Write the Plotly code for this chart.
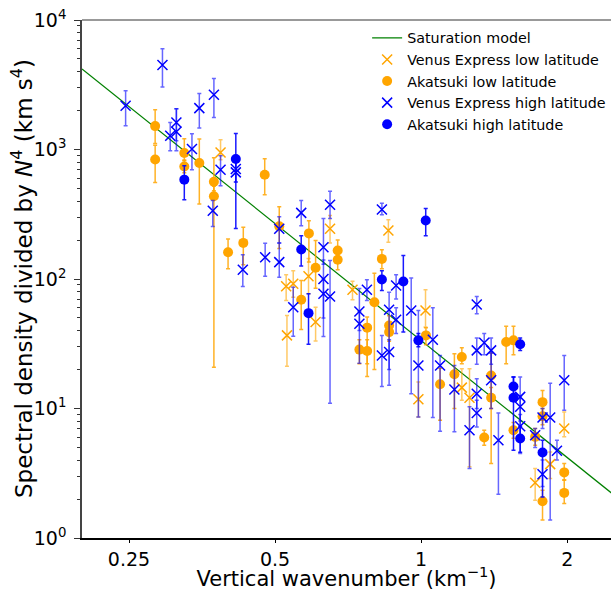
import numpy as np
import plotly.graph_objects as go

# Saturation model line (end points)
model_k = [0.2, 2.5]
model_psd = [4190, 2.14]

# Venus Express, low latitude (orange crosses)
ve_low_k = [0.386, 0.527, 0.545, 0.586, 0.649, 0.529, 0.606, 0.722, 0.856, 1.021,
            0.987, 1.213, 1.258, 1.718, 1.845, 1.972]
ve_low_psd = [949, 88, 92, 105, 244, 36.7, 46.5, 82.6, 237, 57.2,
              11.8, 14.5, 12.1, 2.67, 3.72, 7.01]
ve_low_hi = [1189, 108, 116, 144, 309, 52.3, 60.6, 96.2, 287, 82.6,
             16.0, 20.3, 20.3, 3.44, 4.62, 9.41]
ve_low_lo = [834, 68.3, 72.4, 76.9, 190, 21.2, 33.2, 69.2, 192, 42.5,
             8.6, 11.6, 3.55, 1.96, 2.88, 6.04]

# Akatsuki, low latitude (orange circles)
ak_low_k = [0.283, 0.283, 0.325, 0.325, 0.349, 0.374, 0.374, 0.400, 0.430, 0.476,
            0.510, 0.587, 0.606, 0.566, 0.673, 0.673, 0.830, 0.801, 0.774, 0.746,
            0.774, 0.859, 0.859, 1.023, 1.094, 1.171, 1.213, 1.349, 1.394, 1.394,
            1.497, 1.550, 1.550, 1.779, 1.779, 1.779, 1.972, 1.972, 1.718]
ak_low_psd = [1516, 838, 939, 740, 786, 564, 435, 161, 190, 639,
              255, 225, 122, 69.2, 166, 141, 143, 66.2, 42.1, 28.5,
              27.8, 43.8, 38.9, 36.7, 15.4, 18.4, 25.0, 5.97, 18.0, 12.1,
              32.6, 33.6, 6.80, 11.2, 8.71, 1.92, 3.21, 2.23, 6.04]
ak_low_hi = [2025, 1080, 1210, 830, 1204, 864, 520, 204, 251, 849,
             362, 282, 198, 97.4, 200, 166, 168, 111, 50.8, 34.0,
             34.0, 52, 46, 42, 20.5, 26.5, 29.5, 6.8, 26.8, 14.5,
             43.1, 43.1, 7.8, 13.8, 10.0, 2.34, 3.76, 2.80, 7.0]
ak_low_lo = [1114, 557, 819, 662, 380, 481, 20.8, 120, 129, 448,
             172, 135, 85, 40.8, 145, 118, 120, 20.0, 17.7, 22.2,
             22.2, 37, 33, 31, 8.1, 10.0, 22.2, 5.2, 3.76, 10.0,
             22.2, 26.0, 5.9, 8.87, 7.5, 1.38, 2.80, 1.85, 5.2]

# Venus Express, high latitude (blue crosses)
ve_high_k = [0.246, 0.293, 0.304, 0.313, 0.313, 0.337, 0.349, 0.374, 0.386, 0.372,
             0.415, 0.415, 0.429, 0.477, 0.510, 0.510, 0.566, 0.649, 0.629, 0.629,
             0.629, 0.649, 0.545, 0.746, 0.746, 0.773, 0.830, 0.888, 0.859, 0.888,
             0.830, 0.859, 0.954, 0.987, 1.057, 1.094, 1.302, 1.302, 1.349, 1.394,
             1.171, 1.258, 1.302, 1.302, 1.394, 1.443, 1.600, 1.600, 1.600, 1.718,
             1.779, 1.845, 1.779, 1.905, 1.972]
ve_high_psd = [2174, 4499, 1276, 1370, 1616, 1008, 2086, 2643, 698, 337,
               666, 707, 118, 147, 244, 135, 324, 375, 176, 100,
               76.9, 73.3, 60.6, 56.2, 45.1, 82.6, 344, 89.1, 57.9, 48.5,
               25.7, 27.3, 57.2, 21.5, 34.0, 21.5, 63.6, 28.1, 32.2, 28.1,
               14.0, 6.80, 13.0, 9.24, 16.5, 5.69, 12.3, 10.3, 7.30, 6.22,
               8.52, 8.52, 3.11, 4.71, 16.5]
ve_high_hi = [2837, 6009, 1616, 2061, 2061, 1322, 2704, 3528, 895, 403,
              850, 900, 154, 189, 303, 190, 403, 475, 293, 140,
              100, 139, 86.5, 84.5, 56, 98.6, 384, 108, 79.1, 60,
              36.7, 34, 102, 57.2, 60.0, 25.7, 73.3, 35, 38, 35,
              21.5, 10.3, 17, 11.6, 26.8, 9.24, 17.5, 12.5, 9.0, 7.0,
              10.0, 15.7, 4.0, 5.69, 25.7]
ve_high_lo = [1524, 3045, 978, 978, 1168, 698, 1463, 1766, 525, 254,
              560, 560, 87.5, 105, 190, 103, 258, 293, 130, 36,
              50, 11.0, 36.1, 40, 22.4, 68.3, 314, 70, 15.1, 38,
              14.8, 20, 13.0, 8.61, 8.52, 6.68, 53.9, 22, 26, 22,
              6.60, 3.44, 10, 7.21, 10, 2.18, 8, 6, 4.5, 5.0,
              7.0, 1.38, 2.5, 4.0, 9.70]

# Akatsuki, high latitude (blue circles)
ak_high_k = [0.325, 0.415, 0.566, 0.586, 0.830, 0.919, 1.022, 0.987, 1.600, 1.550,
             1.550, 1.600, 1.779]
ak_high_psd = [585, 844, 169, 54.5, 99.1, 95.7, 283, 33.6, 31.3, 14.8,
               12.1, 5.87, 4.58]
ak_high_hi = [749, 1329, 216, 76.9, 116, 152, 351, 38, 35, 17.5,
              17.5, 7.3, 5.69]
ak_high_lo = [410, 245, 126, 31.3, 81.5, 38.9, 216, 30, 28, 12,
              4.77, 4.6, 2.07]

y_ticks = [1, 10, 100, 1000, 10000]
y_tick_text = ["10<sup>0</sup>", "10<sup>1</sup>", "10<sup>2</sup>", "10<sup>3</sup>", "10<sup>4</sup>"]
x_ticks = [0.25, 0.5, 1, 2]
x_tick_text = ["0.25", "0.5", "1", "2"]

FONT = "DejaVu Sans"


def err_bars(psd, hi, lo, color):
    psd = np.array(psd)
    return dict(type="data", symmetric=False,
                array=np.array(hi) - psd, arrayminus=psd - np.array(lo),
                color=color, thickness=1.5, width=2)


fig = go.Figure()

fig.add_trace(go.Scatter(x=model_k, y=model_psd, mode="lines", name="Saturation model",
                         line=dict(color="green", width=1.2)))

fig.add_trace(go.Scatter(x=ve_low_k, y=ve_low_psd, mode="markers", name="Venus Express low latitude",
                         marker=dict(symbol="x-thin", size=10, color="orange",
                                     line=dict(width=1.5, color="orange")),
                         error_y=err_bars(ve_low_psd, ve_low_hi, ve_low_lo, "rgba(255,165,0,0.6)")))

fig.add_trace(go.Scatter(x=ak_low_k, y=ak_low_psd, mode="markers", name="Akatsuki low latitude",
                         marker=dict(symbol="circle", size=10, color="orange"),
                         error_y=err_bars(ak_low_psd, ak_low_hi, ak_low_lo, "rgba(255,165,0,0.85)")))

fig.add_trace(go.Scatter(x=ve_high_k, y=ve_high_psd, mode="markers", name="Venus Express high latitude",
                         marker=dict(symbol="x-thin", size=10, color="blue",
                                     line=dict(width=1.5, color="blue")),
                         error_y=err_bars(ve_high_psd, ve_high_hi, ve_high_lo, "rgba(0,0,255,0.6)")))

fig.add_trace(go.Scatter(x=ak_high_k, y=ak_high_psd, mode="markers", name="Akatsuki high latitude",
                         marker=dict(symbol="circle", size=10, color="blue"),
                         error_y=err_bars(ak_high_psd, ak_high_hi, ak_high_lo, "rgba(0,0,255,0.9)")))

minor_y = [m * 10 ** d for d in range(0, 4) for m in range(2, 10)]

fig.update_layout(
    width=611, height=591,
    margin=dict(l=82, r=0, t=20, b=53, autoexpand=False),
    paper_bgcolor="white", plot_bgcolor="white",
    font=dict(family=FONT, size=19, color="black"),
    showlegend=True,
    legend=dict(x=0.539, y=0.996, xanchor="left", yanchor="top",
                font=dict(family=FONT, size=14.3), bgcolor="rgba(255,255,255,0)",
                tracegroupgap=0),
    shapes=[dict(type="line", xref="paper", yref="paper", x0=0, x1=1, y0=1, y1=1,
                 line=dict(color="#777777", width=1.5))],
    annotations=[dict(text="Spectral density divided by <i>N</i><sup>4</sup> (km s<sup>4</sup>)",
                      xref="paper", yref="paper", x=-0.1134, y=0.5,
                      xanchor="center", yanchor="middle", textangle=-90,
                      showarrow=False, font=dict(family=FONT, size=23))],
)

fig.update_xaxes(type="log", range=[np.log10(0.2), 0.3913], automargin=False,
                 tickmode="array", tickvals=x_ticks, ticktext=x_tick_text,
                 ticks="outside", ticklen=3, tickwidth=1, tickcolor="black",
                 showline=True, linecolor="black", linewidth=1.5,
                 showgrid=False, zeroline=False,
                 tickfont=dict(size=19),
                 title=dict(text="Vertical wavenumber (km<sup>\u22121</sup>)",
                            font=dict(size=21), standoff=2))

fig.update_yaxes(type="log", range=[0, 4], automargin=False,
                 tickmode="array", tickvals=y_ticks, ticktext=y_tick_text,
                 ticks="outside", ticklen=6, tickwidth=1, tickcolor="#333333",
                 ticklabelstandoff=4,
                 minor=dict(tickmode="array", tickvals=minor_y, ticks="outside",
                            ticklen=3, tickcolor="#333333", showgrid=False),
                 showline=True, linecolor="#444444", linewidth=1.5,
                 showgrid=False, zeroline=False,
                 tickfont=dict(size=19))

# the page body has a default 8px margin; drop it so the figure fills the window
fig.write_html("out.html", config={"displayModeBar": False},
               post_script="document.body.style.margin='0';document.body.style.overflow='hidden';")
